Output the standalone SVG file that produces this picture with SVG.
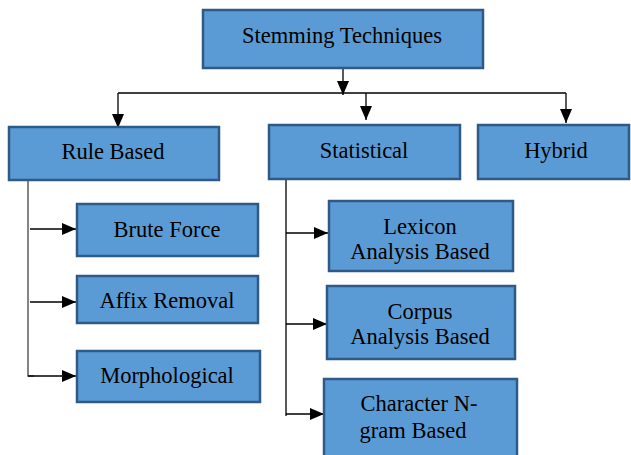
<svg xmlns="http://www.w3.org/2000/svg" width="631" height="455" viewBox="0 0 631 455">
<style>
.box{fill:#5B9BD5;stroke:#2E5A88;stroke-width:2.5}
.t{font-family:"Liberation Serif","Times New Roman",serif;font-size:22.5px;fill:#000;text-anchor:middle}
.c{stroke:#000;stroke-width:1.3;fill:none}
.g{stroke:#666;stroke-width:1.6;fill:none}
</style>
<defs>
<marker id="ah" markerWidth="14" markerHeight="12" refX="14" refY="6" orient="auto" markerUnits="userSpaceOnUse">
<path d="M0,0 L14,6 L0,12 Z" fill="#000"/>
</marker>
</defs>
<rect width="631" height="455" fill="#fff"/>
<g id="connectors">
<path class="c" d="M343,68 V95" marker-end="url(#ah)"/>
<path class="c" d="M118,93 H566"/>
<path class="c" d="M118,93 V128" marker-end="url(#ah)"/>
<path class="c" d="M366,93 V120" marker-end="url(#ah)"/>
<path class="c" d="M566,93 V123" marker-end="url(#ah)"/>
<path class="g" d="M28,180 V376 H34"/>
<path class="c" d="M30,229 H76" marker-end="url(#ah)"/>
<path class="c" d="M30,302 H76" marker-end="url(#ah)"/>
<path class="c" d="M28,376 H76" marker-end="url(#ah)"/>
<path class="c" d="M286,179 V416"/>
<path class="c" d="M286,233 H328" marker-end="url(#ah)"/>
<path class="c" d="M286,324 H327" marker-end="url(#ah)"/>
<path class="c" d="M286,414 H324" marker-end="url(#ah)"/>
</g>
<g id="n-stemming"><rect class="box" x="203" y="10" width="280" height="58"/><text class="t" x="342" y="43">Stemming Techniques</text></g>
<g id="n-rule"><rect class="box" x="9" y="127" width="210" height="53"/><text class="t" x="113" y="159">Rule Based</text></g>
<g id="n-statistical"><rect class="box" x="269" y="125" width="191" height="54"/><text class="t" x="364" y="158">Statistical</text></g>
<g id="n-hybrid"><rect class="box" x="478" y="125" width="151" height="54"/><text class="t" x="556" y="158">Hybrid</text></g>
<g id="n-brute"><rect class="box" x="77" y="204" width="181" height="52"/><text class="t" x="167" y="237">Brute Force</text></g>
<g id="n-affix"><rect class="box" x="77" y="276" width="181" height="47"/><text class="t" x="167" y="308">Affix Removal</text></g>
<g id="n-morph"><rect class="box" x="77" y="351" width="183" height="51"/><text class="t" x="167" y="383">Morphological</text></g>
<g id="n-lexicon"><rect class="box" x="329" y="201" width="184" height="70"/><text class="t" x="420" y="234">Lexicon</text><text class="t" x="420" y="259">Analysis Based</text></g>
<g id="n-corpus"><rect class="box" x="327" y="286" width="188" height="73"/><text class="t" x="420" y="319">Corpus</text><text class="t" x="420" y="344">Analysis Based</text></g>
<g id="n-char"><rect class="box" x="324" y="379" width="193" height="80"/><text class="t" x="419" y="411">Character N-</text><text class="t" x="413" y="438">gram Based</text></g>
</svg>
